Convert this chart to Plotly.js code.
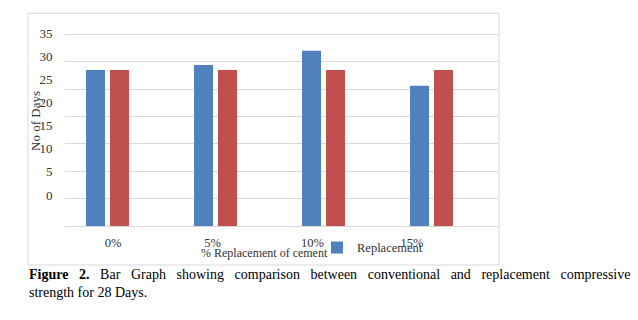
<!DOCTYPE html>
<html>
<head>
<meta charset="utf-8">
<script src="https://cdn.plot.ly/plotly-3.0.1.min.js"></script>
<style>html,body{margin:0;padding:0;background:#fff;}#chart{width:638px;height:320px;}</style>
</head>
<body>
<div id="chart"></div>
<script>
// Data
var categories = ['0%', '5%', '10%', '15%'];
var replacementValues = [28.5, 29.4, 32.0, 25.6];
var conventionalValues = [28.5, 28.5, 28.5, 28.5];
var yTickValues = [0, 5, 10, 15, 20, 25, 30, 35];
var yTickLabels = ['0', '5', '10', '15', '20', '25', '30', '35'];

var serif = 'Liberation Serif, Times New Roman, serif';
var labelColor = '#333333';
var gridColor = '#d9d9d9';

var traces = [
  {
    type: 'bar', name: 'Replacement', x: categories, y: replacementValues,
    marker: {color: '#4F81BD'}, xaxis: 'x', yaxis: 'y', hoverinfo: 'x+y'
  },
  {
    type: 'bar', name: 'Conventional', x: categories, y: conventionalValues,
    marker: {color: '#C0504D'}, xaxis: 'x', yaxis: 'y', showlegend: false, hoverinfo: 'x+y'
  },
  {
    type: 'scatter', mode: 'markers', x: [null], y: [null],
    xaxis: 'x2', yaxis: 'y2', showlegend: false, hoverinfo: 'skip'
  }
];

var layout = {
  width: 638, height: 320,
  margin: {l: 65, r: 140, t: 13, b: 94, pad: 0},
  paper_bgcolor: '#ffffff', plot_bgcolor: 'rgba(0,0,0,0)',
  font: {family: serif, size: 12, color: labelColor},
  barmode: 'group', bargap: 0.556, bargroupgap: 0.208,
  showlegend: true,
  legend: {
    x: 0.582, y: -0.103, xanchor: 'left', yanchor: 'middle',
    bgcolor: 'rgba(0,0,0,0)', font: {family: serif, size: 12.5, color: labelColor}
  },
  xaxis: {
    type: 'category', range: [-0.3935, 3.6157], showticklabels: false,
    showgrid: false, zeroline: false, showline: false, ticks: '', fixedrange: true
  },
  yaxis: {
    range: [0, 38.89], tickvals: yTickValues, showticklabels: false,
    showgrid: true, gridcolor: gridColor, gridwidth: 1,
    zeroline: true, zerolinecolor: gridColor, zerolinewidth: 1,
    showline: false, ticks: '', fixedrange: true
  },
  xaxis2: {
    overlaying: 'x', anchor: 'y', side: 'bottom', type: 'linear',
    range: [-0.4816, 3.8627], tickvals: [0, 1, 2, 3], ticktext: categories,
    showgrid: false, zeroline: false, showline: false,
    ticks: 'outside', ticklen: 5, tickcolor: 'rgba(0,0,0,0)',
    tickfont: {family: serif, size: 12.5, color: labelColor}, fixedrange: true
  },
  yaxis2: {
    overlaying: 'y', anchor: 'x', side: 'left', type: 'linear',
    range: [-6.698, 39.32], tickvals: yTickValues, ticktext: yTickLabels,
    showgrid: false, zeroline: false, showline: false,
    ticks: 'outside', ticklen: 9, tickcolor: 'rgba(0,0,0,0)',
    tickfont: {family: serif, size: 13, color: labelColor}, fixedrange: true
  },
  shapes: [
    {type: 'rect', xref: 'paper', yref: 'paper', x0: -0.0855, x1: 1.0023, y0: -0.183, y1: 0.9986,
     line: {color: gridColor, width: 1}, fillcolor: 'rgba(0,0,0,0)', layer: 'below'}
  ],
  annotations: [
    {text: 'No of Days', xref: 'paper', yref: 'paper', x: -0.0670, y: 0.4930,
     xanchor: 'center', yanchor: 'middle', textangle: -90, showarrow: false,
     font: {family: serif, size: 13, color: labelColor}},
    {text: '% Replacement of cement', xref: 'paper', yref: 'paper', x: 0.4607, y: -0.1268,
     xanchor: 'center', yanchor: 'middle', showarrow: false,
     font: {family: serif, size: 12, color: labelColor}},
    {text: '<span style="word-spacing:7.1px"><b>Figure 2.</b> Bar Graph showing comparison between conventional and replacement compressive</span>',
     xref: 'paper', yref: 'paper', x: -0.0878, y: -0.2300, xanchor: 'left', yanchor: 'middle',
     showarrow: false, font: {family: serif, size: 14, color: '#000000'}},
    {text: 'strength for 28 Days.',
     xref: 'paper', yref: 'paper', x: -0.0878, y: -0.3100, xanchor: 'left', yanchor: 'middle',
     showarrow: false, font: {family: serif, size: 14, color: '#000000'}}
  ]
};

Plotly.newPlot('chart', traces, layout, {displayModeBar: false, staticPlot: true});
</script>
</body>
</html>
